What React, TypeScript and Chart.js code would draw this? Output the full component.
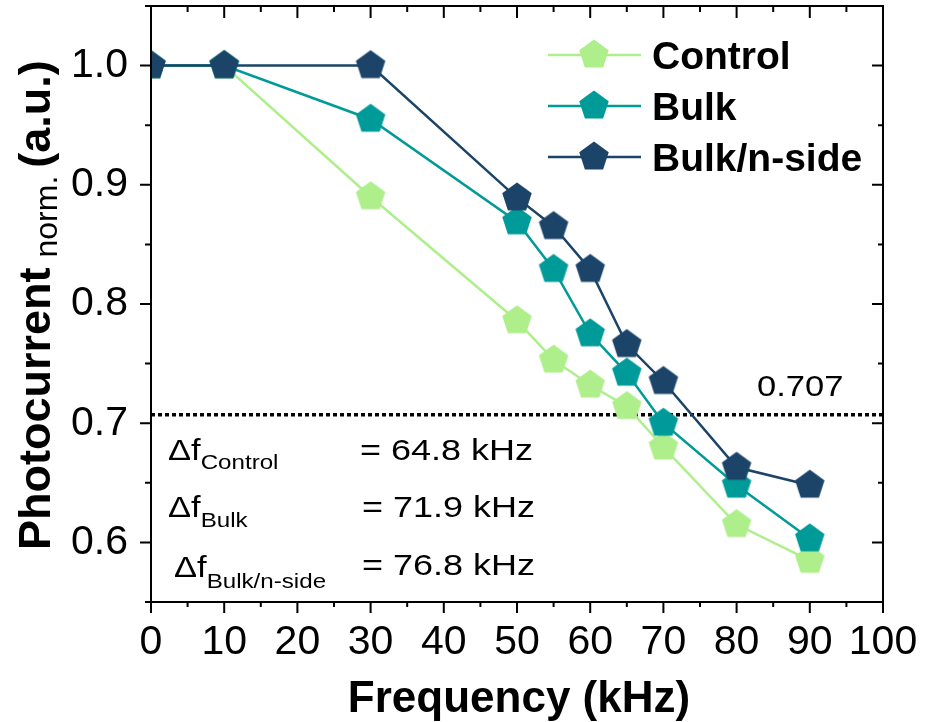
import React, { useEffect, useRef } from "react";
import { Chart, registerables } from "chart.js";
Chart.register(...registerables);

// ---------- data ----------
const FREQ = [0, 10, 30, 50, 55, 60, 65, 70, 80, 90];
const CONTROL = [1.0, 1.0, 0.89, 0.786, 0.753, 0.732, 0.714, 0.68, 0.615, 0.585];
const BULK = [1.0, 1.0, 0.955, 0.869, 0.829, 0.775, 0.742, 0.7, 0.648, 0.603];
const BULK_NSIDE = [1.0, 1.0, 1.0, 0.889, 0.865, 0.829, 0.766, 0.735, 0.663, 0.648];
const SERIES_NAMES = ["Control", "Bulk", "Bulk/n-side"];
const SERIES_COLORS = ["#aeef8c", "#009b98", "#1b4468"];
const THRESHOLD = 0.707;
const THRESHOLD_LABEL = "0.707";
const X_MIN = 0;
const X_MAX = 100;
const Y_MIN = 0.55;
const Y_MAX = 1.05;
const Y_TICKS = [0.6, 0.7, 0.8, 0.9, 1.0];
const Y_MINOR_TICKS = [0.55, 0.65, 0.75, 0.85, 0.95, 1.05];
const X_MINOR_TICKS = [5, 15, 25, 35, 45, 55, 65, 75, 85, 95];
const ANNOT_SUBS = ["Control", "Bulk", "Bulk/n-side"];
const ANNOT_VALUES = ["= 64.8 kHz", "= 71.9 kHz", "= 76.8 kHz"];
const X_TITLE = "Frequency (kHz)";
const Y_TITLE_MAIN = "Photocurrent";
const Y_TITLE_SUB = "norm.";
const Y_TITLE_UNIT = "(a.u.)";

const FONT = "'Liberation Sans', Arial, Helvetica, sans-serif";

function makePentagon(color: string, R = 15.5): HTMLCanvasElement {
  const s = 34;
  const c = document.createElement("canvas");
  c.width = s;
  c.height = s;
  const g = c.getContext("2d")!;
  g.beginPath();
  for (let i = 0; i < 5; i++) {
    const a = -Math.PI / 2 + (i * 2 * Math.PI) / 5;
    const px = s / 2 + R * Math.cos(a);
    const py = s / 2 + R * Math.sin(a);
    if (i === 0) g.moveTo(px, py);
    else g.lineTo(px, py);
  }
  g.closePath();
  g.fillStyle = color;
  g.fill();
  return c;
}

function drawText(
  ctx: CanvasRenderingContext2D,
  s: string,
  x: number,
  y: number,
  font: string,
  sx = 1,
  align: CanvasTextAlign = "left"
): number {
  ctx.save();
  ctx.font = font;
  ctx.textAlign = align;
  ctx.textBaseline = "alphabetic";
  ctx.fillStyle = "#000";
  const w = ctx.measureText(s).width * sx;
  ctx.translate(x, y);
  ctx.scale(sx, 1);
  ctx.fillText(s, 0, 0);
  ctx.restore();
  return w;
}

export default function App() {
  const ref = useRef<HTMLCanvasElement | null>(null);

  useEffect(() => {
    if (!ref.current) return;
    const markers = SERIES_COLORS.map((c) => makePentagon(c));
    const seriesValues = [CONTROL, BULK, BULK_NSIDE];

    const overlay = {
      id: "overlay",
      afterDraw(chart: any) {
        const { ctx, chartArea: a, scales } = chart;
        const x = scales.x;
        const y = scales.y;
        ctx.save();
        ctx.strokeStyle = "#000";
        ctx.lineWidth = 2;
        ctx.strokeRect(a.left, a.top, a.right - a.left, a.bottom - a.top);
        ctx.beginPath();
        x.ticks.forEach((t: any) => {
          const px = x.getPixelForValue(t.value);
          ctx.moveTo(px, a.bottom);
          ctx.lineTo(px, a.bottom + 11);
          ctx.moveTo(px, a.top);
          ctx.lineTo(px, a.top + 12);
        });
        X_MINOR_TICKS.forEach((v) => {
          const px = x.getPixelForValue(v);
          ctx.moveTo(px, a.bottom);
          ctx.lineTo(px, a.bottom + 5);
          ctx.moveTo(px, a.top);
          ctx.lineTo(px, a.top + 6);
        });
        y.ticks.forEach((t: any) => {
          const py = y.getPixelForValue(t.value);
          ctx.moveTo(a.left, py);
          ctx.lineTo(a.left - 11, py);
          ctx.moveTo(a.right, py);
          ctx.lineTo(a.right - 11, py);
        });
        Y_MINOR_TICKS.forEach((v) => {
          const py = y.getPixelForValue(v);
          ctx.moveTo(a.left, py);
          ctx.lineTo(a.left - 6, py);
          ctx.moveTo(a.right, py);
          ctx.lineTo(a.right - 5, py);
        });
        ctx.stroke();

        // threshold label
        drawText(ctx, THRESHOLD_LABEL, 757, y.getPixelForValue(THRESHOLD) - 19, `30px ${FONT}`, 1.15);

        // annotations
        const rows = [
          { dx: 168, base: 460, sub: 469, vx: 360, vb: 460 },
          { dx: 168, base: 517, sub: 527, vx: 362, vb: 517 },
          { dx: 174, base: 577, sub: 588, vx: 362, vb: 575 },
        ];
        rows.forEach((r, i) => {
          const w = drawText(ctx, "\u0394f", r.dx, r.base, `30px ${FONT}`, 1.15);
          drawText(ctx, ANNOT_SUBS[i], r.dx + w, r.sub, `21px ${FONT}`, 1.15);
          drawText(ctx, ANNOT_VALUES[i], r.vx, r.vb, `30px ${FONT}`, 1.2);
        });

        // legend
        SERIES_NAMES.forEach((name, i) => {
          const ly = 55 + i * 51;
          ctx.beginPath();
          ctx.strokeStyle = SERIES_COLORS[i];
          ctx.lineWidth = 2.5;
          ctx.moveTo(548, ly);
          ctx.lineTo(641, ly);
          ctx.stroke();
          const m = markers[i];
          ctx.drawImage(m, 594 - m.width / 2, ly - m.height / 2);
          drawText(ctx, name, 652, ly + 14, `bold 39px ${FONT}`);
        });

        // x title
        drawText(ctx, X_TITLE, (a.left + a.right) / 2 + 2, 712, `bold 44px ${FONT}`, 1, "center");

        // y title
        ctx.save();
        ctx.translate(50, 550);
        ctx.rotate(-Math.PI / 2);
        let p = 0;
        p += drawText(ctx, Y_TITLE_MAIN, p, 0, `bold 45px ${FONT}`);
        p += 10;
        p += drawText(ctx, Y_TITLE_SUB, p, 7, `32px ${FONT}`);
        p += 8;
        drawText(ctx, Y_TITLE_UNIT, p, 0, `bold 45px ${FONT}`);
        ctx.restore();

        ctx.restore();
      },
    };

    const datasets: any[] = SERIES_NAMES.map((name, i) => ({
      label: name,
      data: FREQ.map((f, j) => ({ x: f, y: seriesValues[i][j] })),
      borderColor: SERIES_COLORS[i],
      backgroundColor: SERIES_COLORS[i],
      borderWidth: 2.5,
      pointStyle: markers[i],
      pointRadius: 15,
      pointHoverRadius: 15,
      order: 2 - i,
      tension: 0,
    }));
    datasets.push({
      label: "threshold",
      data: [
        { x: X_MIN, y: THRESHOLD },
        { x: X_MAX, y: THRESHOLD },
      ],
      borderColor: "#000",
      borderWidth: 3.5,
      borderDash: [4, 3],
      borderCapStyle: "butt",
      pointRadius: 0,
      order: 3,
    });

    const chart = new Chart(ref.current, {
      type: "line",
      data: { datasets },
      plugins: [overlay],
      options: {
        animation: false,
        responsive: true,
        maintainAspectRatio: false,
        layout: { autoPadding: false, padding: { left: 0, right: 45, top: 6, bottom: 0 } },
        plugins: {
          legend: { display: false },
          tooltip: { enabled: false },
          title: { display: false },
        },
        scales: {
          x: {
            type: "linear",
            min: X_MIN,
            max: X_MAX,
            border: { display: false },
            grid: {
              display: true,
              drawOnChartArea: false,
              drawTicks: true,
              tickLength: 11,
              color: "rgba(0,0,0,0)",
            },
            ticks: {
              stepSize: 10,
              padding: 5,
              color: "#000",
              font: { family: FONT, size: 41 },
              maxRotation: 0,
              autoSkip: false,
            },
            afterFit: (s: any) => {
              s.height = 120;
              s.paddingLeft = 0;
              s.paddingRight = 0;
            },
          },
          y: {
            type: "linear",
            min: Y_MIN,
            max: Y_MAX,
            border: { display: false },
            grid: {
              display: true,
              drawOnChartArea: false,
              drawTicks: true,
              tickLength: 11,
              color: "rgba(0,0,0,0)",
            },
            afterBuildTicks: (s: any) => {
              s.ticks = Y_TICKS.map((v) => ({ value: v }));
            },
            ticks: {
              padding: 12,
              color: "#000",
              font: { family: FONT, size: 41 },
              callback: (v: any) => Number(v).toFixed(1),
            },
            afterFit: (s: any) => {
              s.width = 151;
              s.paddingTop = 0;
              s.paddingBottom = 0;
            },
          },
        },
      } as any,
    });
    return () => chart.destroy();
  }, []);

  return (
    <div style={{ position: "absolute", left: 0, top: 0, width: 928, height: 722, background: "#fff" }}>
      <canvas ref={ref} />
    </div>
  );
}
